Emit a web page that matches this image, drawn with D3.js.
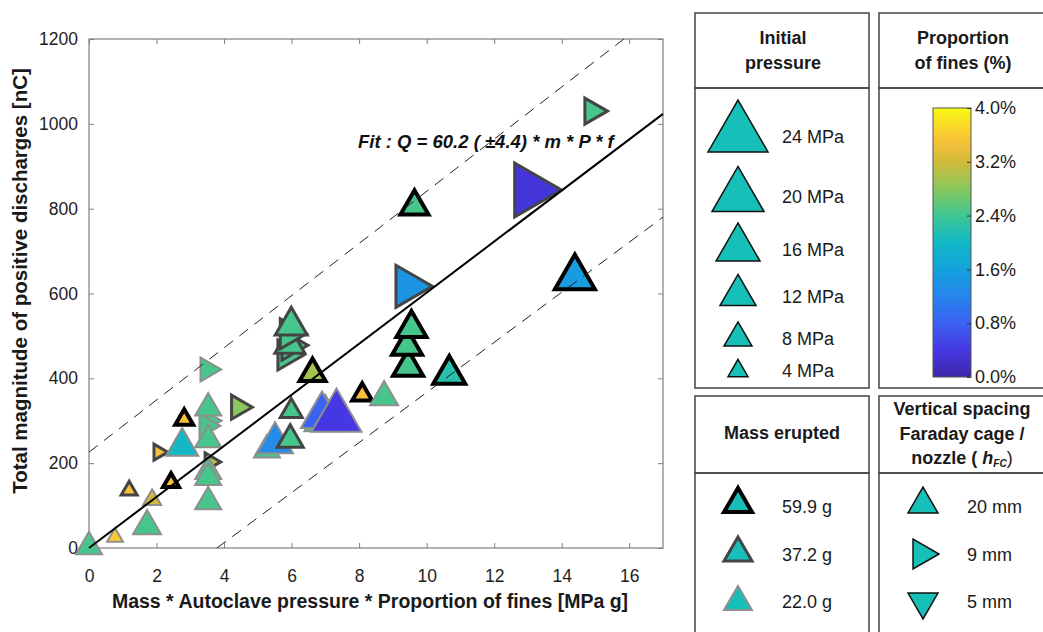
<!DOCTYPE html>
<html>
<head>
<meta charset="utf-8">
<script src="https://cdn.jsdelivr.net/npm/d3@7"></script>
<style>
  body { margin: 0; background: #fff; }
  svg { display: block; font-family: Arial, "Liberation Sans", sans-serif; }
</style>
</head>
<body>
<svg id="main" width="1043" height="632"></svg>
<script>
// x = mass * pressure * fines, q = total positive discharge (nC)
const xVals = [0.00, 0.77, 1.72, 1.87, 1.19, 2.43, 2.13, 2.82, 2.76, 3.67,
    3.53, 3.53, 3.53, 3.62, 3.58, 3.53, 3.53, 3.61, 4.53, 5.27,
    5.51, 5.99, 5.96, 5.98, 6.10, 5.95, 6.05, 5.99, 6.62, 7.00,
    6.90, 7.33, 8.09, 8.74, 9.45, 9.42, 9.55, 10.67, 9.63, 9.64,
    13.30, 14.39, 15.02];
const qVals = [12, 31, 61, 120, 141, 160, 226, 309, 250, 203,
    118, 189, 175, 300, 288, 264, 339, 421, 332, 240,
    260, 330, 264, 455, 478, 490, 505, 535, 420, 318,
    326, 325, 368, 365, 437, 486, 528, 420, 617, 815,
    844, 651, 1030];
// initial pressure (MPa) -> marker size
const pressures = [7, 2, 8, 3, 2, 2, 2, 3, 10, 3,
    7, 7, 7, 6, 6, 7, 7, 6, 6, 7,
    12, 5, 7, 9, 9, 9, 9, 10, 7, 15,
    15, 19, 4, 8, 9, 9, 9, 10, 15, 8,
    21, 14, 7];
// proportion of fines (%) -> colour
const fines = [2.45, 3.6, 2.45, 3.2, 3.5, 3.5, 3.5, 3.5, 2.0, 3.1,
    2.45, 2.45, 2.45, 2.45, 2.45, 2.45, 2.45, 2.45, 2.8, 2.45,
    1.3, 2.45, 2.45, 2.45, 2.45, 2.45, 2.45, 2.45, 2.95, 2.45,
    0.8, 0.4, 3.5, 2.45, 2.45, 2.45, 2.45, 2.2, 1.4, 2.45,
    0.35, 1.5, 2.45];
// mass erupted (g) -> outline
const masses = [22.0, 22.0, 22.0, 22.0, 37.2, 59.9, 37.2, 59.9, 22.0, 37.2,
    22.0, 22.0, 22.0, 22.0, 22.0, 22.0, 22.0, 22.0, 37.2, 22.0,
    22.0, 37.2, 37.2, 37.2, 37.2, 37.2, 37.2, 37.2, 59.9, 22.0,
    22.0, 22.0, 59.9, 22.0, 59.9, 59.9, 59.9, 59.9, 37.2, 59.9,
    37.2, 59.9, 37.2];
// vertical spacing Faraday cage / nozzle (mm) -> orientation
const spacings = [20, 20, 20, 20, 20, 20, 9, 20, 20, 9,
    20, 20, 20, 9, 9, 20, 20, 9, 9, 20,
    20, 20, 20, 9, 9, 20, 9, 20, 20, 20,
    20, 20, 20, 20, 20, 20, 20, 20, 9, 20,
    9, 20, 9];

const fitSlope = 60.2;
const upperBand = [[0, 226], [15.84, 1200]];
const lowerBand = [[3.79, 0], [17, 780]];

const xTicks = [0, 2, 4, 6, 8, 10, 12, 14, 16];
const yTicks = [0, 200, 400, 600, 800, 1000, 1200];

const legendPressures = [24, 20, 16, 12, 8, 4];
const legendMasses = [59.9, 37.2, 22.0];
const legendSpacings = [20, 9, 5];
const colorbarTicks = [0, 0.8, 1.6, 2.4, 3.2, 4.0];

// parula-like colormap
const cmapStops = ["#3e26a8", "#4538e2", "#3c62f2", "#2684ec", "#14a2dc",
    "#12b8c6", "#3ec693", "#88c85c", "#d2bb3a", "#fbbf3a", "#f9fb14"];
const cmapPos = [0, 0.1, 0.2, 0.3, 0.4, 0.5, 0.6, 0.7, 0.8, 0.88, 1];
const cmap = d3.scaleLinear().domain(cmapPos).range(cmapStops).interpolate(d3.interpolateRgb);
const color = d3.scaleLinear().domain([0, 4]).range([0, 1]).clamp(true);
const fill = f => cmap(color(f));

const outline = {
    "59.9": { stroke: "#000", width: 4 },
    "37.2": { stroke: "#444", width: 3 },
    "22": { stroke: "#8e8e8e", width: 2 }
};
const rotation = { 20: 0, 9: 90, 5: 180 };
const markerWidth = p => 12 + 2 * p;

// triangle symbol, size = base width in px
const triangle = {
    draw(ctx, w) {
        const h = w * 0.866;
        ctx.moveTo(0, -h / 2);
        ctx.lineTo(w / 2, h / 2);
        ctx.lineTo(-w / 2, h / 2);
        ctx.closePath();
    }
};

const svg = d3.select("#main");
const plotLeft = 89, plotRight = 663, plotTop = 39, plotBottom = 548;

const x = d3.scaleLinear().domain([0, 17]).range([plotLeft, plotRight]);
const y = d3.scaleLinear().domain([0, 1200]).range([plotBottom, plotTop]);

// axes (MATLAB style box, ticks inward)
const tickFont = g => g.selectAll("text")
    .style("font-size", "17.5px")
    .attr("fill", "#1e1e1e");

svg.append("g")
    .attr("transform", `translate(0,${plotBottom})`)
    .call(d3.axisBottom(x).tickValues(xTicks).tickSize(-5).tickPadding(22).tickFormat(d3.format("d")))
    .call(g => g.select(".domain").remove())
    .call(g => g.selectAll("line").attr("stroke", "#7f7f7f"))
    .call(tickFont);

svg.append("g")
    .attr("transform", `translate(${plotLeft},0)`)
    .call(d3.axisLeft(y).tickValues(yTicks).tickSize(-5).tickPadding(11).tickFormat(d3.format("d")))
    .call(g => g.select(".domain").remove())
    .call(g => g.selectAll("line").attr("stroke", "#7f7f7f"))
    .call(tickFont);

svg.append("g")
    .attr("transform", `translate(0,${plotTop})`)
    .call(d3.axisTop(x).tickValues(xTicks).tickSize(-5).tickFormat(""))
    .call(g => g.select(".domain").remove())
    .call(g => g.selectAll("line").attr("stroke", "#7f7f7f"));

svg.append("g")
    .attr("transform", `translate(${plotRight},0)`)
    .call(d3.axisRight(y).tickValues(yTicks).tickSize(-5).tickFormat(""))
    .call(g => g.select(".domain").remove())
    .call(g => g.selectAll("line").attr("stroke", "#7f7f7f"));

svg.append("rect")
    .attr("x", plotLeft).attr("y", plotTop)
    .attr("width", plotRight - plotLeft).attr("height", plotBottom - plotTop)
    .attr("fill", "none").attr("stroke", "#7f7f7f").attr("stroke-width", 1.2);

// data points
const points = xVals.map((v, i) => ({
    x: v, q: qVals[i], p: pressures[i], f: fines[i], m: masses[i], s: spacings[i]
}));

svg.append("g")
    .selectAll("path")
    .data(points)
    .join("path")
    .attr("d", d => d3.symbol().type(triangle).size(markerWidth(d.p))())
    .attr("transform", d => `translate(${x(d.x)},${y(d.q)}) rotate(${rotation[d.s]})`)
    .attr("fill", d => fill(d.f))
    .attr("stroke", d => outline[String(d.m)].stroke)
    .attr("stroke-width", d => outline[String(d.m)].width)
    .attr("stroke-linejoin", "miter");

// fit and bands
const line = d3.line().x(d => x(d[0])).y(d => y(d[1]));
svg.append("path")
    .attr("d", line([[0, 0], [17, fitSlope * 17]]))
    .attr("fill", "none").attr("stroke", "#000").attr("stroke-width", 2);

[upperBand, lowerBand].forEach(b => {
    svg.append("path")
        .attr("d", line(b))
        .attr("fill", "none").attr("stroke", "#222").attr("stroke-width", 1)
        .attr("stroke-dasharray", "11,8");
});

svg.append("text")
    .attr("x", 358).attr("y", 148)
    .style("font-size", "18.5px").style("font-weight", "bold").style("font-style", "italic")
    .attr("fill", "#111")
    .text("Fit : Q = 60.2 ( \u00b14.4) * m * P * f");

// axis titles
svg.append("text")
    .attr("x", 370).attr("y", 608)
    .attr("text-anchor", "middle")
    .style("font-size", "19.5px").style("font-weight", "bold")
    .attr("fill", "#1a1a1a")
    .text("Mass * Autoclave pressure * Proportion of fines [MPa g]");

svg.append("text")
    .attr("transform", "translate(27,281) rotate(-90)")
    .attr("text-anchor", "middle")
    .style("font-size", "20.5px").style("font-weight", "bold")
    .attr("fill", "#1a1a1a")
    .text("Total magnitude of positive discharges [nC]");

// ---- legend panels ----
const legendFill = "#16bfb8";
const panelStroke = "#444";
function panel(x0, x1, y0, y1, y2) {
    svg.append("rect").attr("x", x0).attr("y", y0).attr("width", x1 - x0).attr("height", y1 - y0)
        .attr("fill", "none").attr("stroke", panelStroke).attr("stroke-width", 1.5);
    svg.append("rect").attr("x", x0).attr("y", y1).attr("width", x1 - x0).attr("height", y2 - y1)
        .attr("fill", "none").attr("stroke", panelStroke).attr("stroke-width", 1.5);
}
panel(695, 869, 13, 88, 388);
panel(879, 1060, 13, 88, 388);
panel(695, 869, 396, 473, 660);
panel(879, 1060, 396, 473, 660);

function header(cx, lines, y0) {
    lines.forEach((t, i) => {
        svg.append("text")
            .attr("x", cx).attr("y", y0 + i * 24.5)
            .attr("text-anchor", "middle")
            .style("font-size", "18px").style("font-weight", "bold")
            .attr("fill", "#1a1a1a")
            .text(t);
    });
}
header(783, ["Initial", "pressure"], 44);
header(963, ["Proportion", "of fines (%)"], 44);
header(782, ["Mass erupted"], 439);
header(962, ["Vertical spacing", "Faraday cage /"], 415);
const nozzle = svg.append("text")
    .attr("x", 962).attr("y", 464)
    .attr("text-anchor", "middle")
    .style("font-size", "18px").style("font-weight", "bold")
    .attr("fill", "#1a1a1a");
nozzle.append("tspan").text("nozzle ( ");
nozzle.append("tspan").style("font-style", "italic").text("h");
nozzle.append("tspan").attr("dy", 3).style("font-size", "10px").style("font-style", "italic").text("FC");
nozzle.append("tspan").attr("dy", -3).style("font-weight", "normal").text(")");

// pressure legend
const pressureRowsY = [126, 189, 242, 290, 334, 368];
const pressureTextY = [137, 197, 250, 297, 339, 371];
legendPressures.forEach((p, i) => {
    svg.append("path")
        .attr("d", d3.symbol().type(triangle).size(markerWidth(p))())
        .attr("transform", `translate(738,${pressureRowsY[i]})`)
        .attr("fill", legendFill).attr("stroke", "#111").attr("stroke-width", 1.5);
    svg.append("text")
        .attr("x", 782).attr("y", pressureTextY[i]).attr("dy", "0.35em")
        .style("font-size", "18px").attr("fill", "#1a1a1a")
        .text(p + " MPa");
});

// colour bar
const cbY = d3.scaleLinear().domain([0, 4]).range([377, 108]);
const grad = svg.append("defs").append("linearGradient")
    .attr("id", "cbar").attr("x1", 0).attr("y1", 1).attr("x2", 0).attr("y2", 0);
d3.range(0, 1.0001, 0.05).forEach(t => {
    grad.append("stop").attr("offset", t).attr("stop-color", cmap(t));
});
svg.append("rect")
    .attr("x", 933).attr("y", cbY(4)).attr("width", 38).attr("height", cbY(0) - cbY(4))
    .attr("fill", "url(#cbar)").attr("stroke", "#555").attr("stroke-width", 1);
svg.append("g")
    .attr("transform", "translate(971,0)")
    .call(d3.axisRight(cbY).tickValues(colorbarTicks).tickSize(-4).tickPadding(4)
        .tickFormat(d => d3.format(".1f")(d) + "%"))
    .call(g => g.select(".domain").remove())
    .call(g => g.selectAll("line").attr("stroke", "#333"))
    .call(g => g.selectAll("text").style("font-size", "18px").attr("fill", "#1a1a1a"));

// mass legend
const massRowsY = [500, 549, 598];
const massTextY = [507, 555, 602];
legendMasses.forEach((m, i) => {
    const o = outline[String(m)];
    svg.append("path")
        .attr("d", d3.symbol().type(triangle).size(28)())
        .attr("transform", `translate(738,${massRowsY[i]})`)
        .attr("fill", legendFill).attr("stroke", o.stroke).attr("stroke-width", o.width);
    svg.append("text")
        .attr("x", 782).attr("y", massTextY[i]).attr("dy", "0.35em")
        .style("font-size", "18px").attr("fill", "#1a1a1a")
        .text(d3.format(".1f")(m) + " g");
});

// spacing legend
const spacingRowsY = [500, 554, 606];
const spacingRowsX = [923, 926, 923];
const spacingTextY = [507, 555, 602];
legendSpacings.forEach((s, i) => {
    svg.append("path")
        .attr("d", d3.symbol().type(triangle).size(30)())
        .attr("transform", `translate(${spacingRowsX[i]},${spacingRowsY[i]}) rotate(${rotation[s]})`)
        .attr("fill", legendFill).attr("stroke", "#111").attr("stroke-width", 1.5);
    svg.append("text")
        .attr("x", 967).attr("y", spacingTextY[i]).attr("dy", "0.35em")
        .style("font-size", "18px").attr("fill", "#1a1a1a")
        .text(s + " mm");
});
</script>
</body>
</html>
